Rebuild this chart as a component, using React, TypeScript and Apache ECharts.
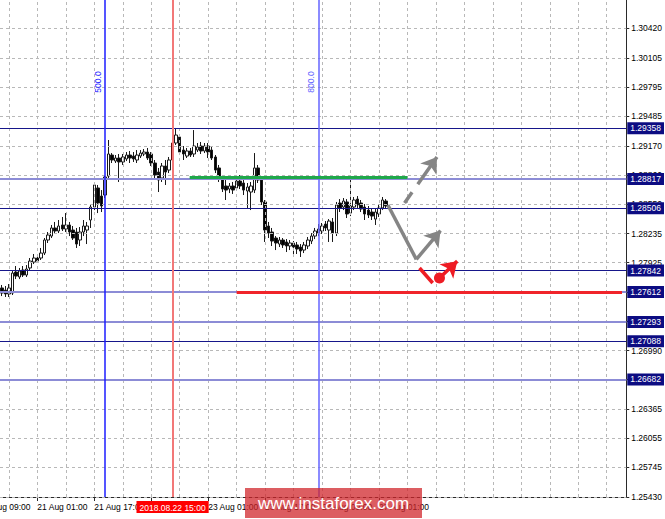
import { useEffect, useRef } from "react";
import * as echarts from "echarts";

// GBP/USD H1 bars
const opens = [
  1.27656, 1.27634, 1.27592, 1.27602, 1.27826, 1.27773, 1.27847, 1.27794, 1.27869, 1.27932,
  1.27975, 1.27975, 1.28028, 1.28167, 1.28209, 1.28295, 1.28263, 1.28327, 1.28284, 1.28327,
  1.28273, 1.28252, 1.28167, 1.28252, 1.28273, 1.2838, 1.28518, 1.28721, 1.28635, 1.28646,
  1.28848, 1.29072, 1.29008, 1.2904, 1.28998, 1.2903, 1.29072, 1.29061, 1.29019, 1.29061,
  1.29083, 1.29104, 1.29083, 1.28987, 1.28891, 1.28827, 1.28955, 1.28912, 1.29019, 1.292,
  1.29264, 1.29125, 1.29061, 1.29115, 1.29083, 1.29125, 1.29168, 1.29115, 1.29168, 1.29125,
  1.29051, 1.28934, 1.28827, 1.28742, 1.2871, 1.28742, 1.28721, 1.28795, 1.28774, 1.28689,
  1.28678, 1.28699, 1.28934, 1.28806, 1.28572, 1.28316, 1.28252, 1.28188, 1.28124, 1.28167,
  1.28146, 1.28103, 1.28135, 1.28114, 1.28092, 1.2806, 1.28103, 1.28156, 1.28209, 1.28241,
  1.28263, 1.28337, 1.28273, 1.28359, 1.28241, 1.28561, 1.28518, 1.28572, 1.28454, 1.28518,
  1.28603, 1.28561, 1.28518, 1.28486, 1.28465, 1.2839, 1.28444, 1.28508, 1.28582,
];
const closes = [
  1.27602, 1.27592, 1.27656, 1.27815, 1.27783, 1.27837, 1.27794, 1.27858, 1.27943, 1.27975,
  1.27943, 1.28028, 1.28167, 1.2822, 1.28295, 1.28263, 1.28316, 1.28284, 1.28327, 1.28252,
  1.28188, 1.28124, 1.28252, 1.28316, 1.28316, 1.28518, 1.28753, 1.28561, 1.28529, 1.28838,
  1.29083, 1.29019, 1.2904, 1.28998, 1.29051, 1.29072, 1.2904, 1.2903, 1.29072, 1.29093,
  1.29104, 1.2904, 1.28987, 1.28859, 1.28806, 1.28955, 1.28891, 1.29019, 1.292, 1.29285,
  1.29104, 1.29083, 1.29115, 1.29072, 1.29168, 1.29157, 1.29115, 1.29168, 1.29104, 1.2904,
  1.28912, 1.28827, 1.2871, 1.28699, 1.28742, 1.28699, 1.28795, 1.28742, 1.28699, 1.28731,
  1.28742, 1.28934, 1.28806, 1.28572, 1.28273, 1.28241, 1.28156, 1.28135, 1.28167, 1.28114,
  1.28103, 1.28135, 1.28092, 1.28071, 1.2805, 1.28114, 1.28167, 1.28209, 1.28263, 1.28284,
  1.28316, 1.28295, 1.28369, 1.28241, 1.2854, 1.28508, 1.28582, 1.28444, 1.28529, 1.28593,
  1.2854, 1.28497, 1.28444, 1.28433, 1.28422, 1.28465, 1.28508, 1.28593, 1.28529,
];
const lows = [
  1.2757, 1.2756, 1.2756, 1.27581, 1.27751, 1.27751, 1.27773, 1.27773, 1.27847, 1.27911,
  1.27922, 1.27954, 1.28007, 1.28135, 1.28188, 1.28231, 1.28241, 1.28263, 1.28252, 1.28209,
  1.28167, 1.28082, 1.28103, 1.28209, 1.28124, 1.28295, 1.28486, 1.28454, 1.28465, 1.28614,
  1.28827, 1.28987, 1.28987, 1.28785, 1.28966, 1.29008, 1.28987, 1.28998, 1.28987, 1.2904,
  1.29061, 1.29019, 1.28955, 1.28806, 1.28678, 1.28785, 1.28753, 1.2888, 1.28998, 1.29179,
  1.29072, 1.29019, 1.2904, 1.29051, 1.29051, 1.29104, 1.29083, 1.29093, 1.2904, 1.29019,
  1.2888, 1.28785, 1.28678, 1.28593, 1.28667, 1.28657, 1.28699, 1.2871, 1.28646, 1.28508,
  1.28486, 1.28667, 1.28774, 1.2854, 1.28146, 1.28188, 1.28103, 1.2806, 1.28092, 1.28082,
  1.28039, 1.2806, 1.28007, 1.28018, 1.27986, 1.28028, 1.28071, 1.28124, 1.28177, 1.28209,
  1.28231, 1.28263, 1.28146, 1.28146, 1.28209, 1.28465, 1.28486, 1.28401, 1.28422, 1.28486,
  1.28508, 1.28465, 1.2838, 1.28401, 1.2838, 1.28327, 1.28412, 1.28486, 1.28508,
];
const highs = [
  1.27688, 1.27677, 1.27698, 1.27847, 1.2789, 1.27869, 1.2789, 1.279, 1.27975, 1.28018,
  1.28007, 1.28082, 1.28188, 1.28252, 1.28327, 1.28359, 1.2838, 1.28412, 1.28454, 1.28359,
  1.28316, 1.28295, 1.28305, 1.2838, 1.28359, 1.2854, 1.28774, 1.28753, 1.28699, 1.28859,
  1.29232, 1.29093, 1.29072, 1.29083, 1.29083, 1.29104, 1.29115, 1.29104, 1.29125, 1.29125,
  1.29136, 1.29147, 1.29104, 1.29019, 1.28934, 1.28987, 1.29019, 1.29051, 1.29232, 1.2936,
  1.29296, 1.29168, 1.29147, 1.29147, 1.29338, 1.292, 1.29211, 1.292, 1.292, 1.29168,
  1.29072, 1.28966, 1.28859, 1.28806, 1.28774, 1.28785, 1.28848, 1.28859, 1.28827, 1.28774,
  1.28785, 1.29093, 1.28966, 1.28848, 1.28593, 1.28359, 1.28295, 1.28209, 1.28199, 1.28188,
  1.28177, 1.28167, 1.28156, 1.28146, 1.28124, 1.28146, 1.28199, 1.28241, 1.28295, 1.28337,
  1.28348, 1.28369, 1.2839, 1.28401, 1.28572, 1.28603, 1.28614, 1.28603, 1.28806, 1.28625,
  1.28635, 1.28593, 1.2855, 1.28529, 1.28497, 1.28497, 1.2854, 1.28625, 1.28603,
];

// Time scale
const firstBarTime = "2018.08.20 15:00";
const totalBars = 176;
const labelEvery = 16;
const labelPhase = 10;
const gridEvery = 8;
const gridPhase = 2;
const selectedTime = "2018.08.22 15:00";

// Price scale
const priceMin = 1.2543;
const priceMax = 1.30723;
const priceTicks = [
  1.2543, 1.25745, 1.26055, 1.26365, 1.2668, 1.2699, 1.273, 1.27615, 1.27925,
  1.28235, 1.2855, 1.2886, 1.2917, 1.29485, 1.29795, 1.30105, 1.3042,
];

// Horizontal levels and their line tone
const levels = [1.29358, 1.28817, 1.28506, 1.27842, 1.27612, 1.27293, 1.27088, 1.26682];
const levelTones = ["dark", "light", "dark", "dark", "light", "light", "dark", "light"];

// Vertical markers
const markerTimes = ["2018.08.21 20:00", "2018.08.24 08:00"];
const markerTexts = ["500.0", "800.0"];
const markerColors = ["#1c1cff", "#6464ff"];

// Drawn resistance / support segments [fromBar, toBar], price
const resistanceSpan = [52.8, 114];
const resistancePrice = 1.2883;
const supportSpan = [66, 174.3];
const supportPrice = 1.27612;

// Scenario arrows, points as [bar, price]
const breakoutPath = [[113.2, 1.28561], [122.3, 1.29052]];
const pullbackPath = [[108.5, 1.2854], [116.5, 1.27961], [123.3, 1.28267]];
const reversalStroke = [[117.4, 1.27869], [121.1, 1.27709]];
const reversalPoint = [123, 1.27762];
const reversalTarget = [128, 1.27942];

const FONT = "'Liberation Sans', Arial, Helvetica, sans-serif";
const MONTHS = ["Jan", "Feb", "Mar", "Apr", "May", "Jun", "Jul", "Aug", "Sep", "Oct", "Nov", "Dec"];

function parseBarTime(s: string) {
  const [d, t] = s.split(" ");
  const [y, m, day] = d.split(".").map(Number);
  const [hh, mm] = t.split(":").map(Number);
  return Date.UTC(y, m - 1, day, hh, mm);
}
const pad = (n: number) => String(n).padStart(2, "0");
function formatBarTime(ms: number) {
  const d = new Date(ms);
  return `${d.getUTCFullYear()}.${pad(d.getUTCMonth() + 1)}.${pad(d.getUTCDate())} ${pad(d.getUTCHours())}:${pad(d.getUTCMinutes())}`;
}
// Step n trading hours from a bar time, skipping weekends
function stepBars(start: string, n: number) {
  let ms = parseBarTime(start);
  const dir = n >= 0 ? 1 : -1;
  let left = Math.abs(n);
  while (left > 0) {
    ms += dir * 3600000;
    const wd = new Date(ms).getUTCDay();
    if (wd === 0 || wd === 6) continue;
    left--;
  }
  return formatBarTime(ms);
}
function shortLabel(s: string) {
  const ms = parseBarTime(s);
  const d = new Date(ms);
  return `${pad(d.getUTCDate())} ${MONTHS[d.getUTCMonth()]} ${pad(d.getUTCHours())}:${pad(d.getUTCMinutes())}`;
}

const barTimes = Array.from({ length: totalBars }, (_, i) => stepBars(firstBarTime, i));
const barOf = (t: string) => barTimes.indexOf(t);

const isLabelBar = (i: number) => i % labelEvery === labelPhase && i < opens.length;

export default function App() {
  const ref = useRef<HTMLDivElement>(null);

  useEffect(() => {
    const el = ref.current!;
    const chart = echarts.init(el, null, { renderer: "svg" });

    const candleData = opens.map((o, i) => {
      const v = [o, closes[i], lows[i], highs[i]];
      if (barTimes[i] === selectedTime) {
        return {
          value: v,
          itemStyle: { color: "#8a1414", color0: "#8a1414", borderColor: "#6a0c0c", borderColor0: "#6a0c0c" },
        };
      }
      return v;
    });

    const gridLines: any[] = [];
    for (let i = 0; i < totalBars; i++) if (i % gridEvery === gridPhase) gridLines.push({ xAxis: i });
    priceTicks.forEach((p) => gridLines.push({ yAxis: p }));

    const levelLines = levels.map((p, i) => ({
      yAxis: p,
      lineStyle: {
        color: levelTones[i] === "dark" ? "#16168a" : "#8c8cd6",
        width: levelTones[i] === "dark" ? 1 : 2,
        type: "solid",
      },
    }));

    const grey = { color: "#858585", width: 3.5, type: "solid" };
    const red = { color: "#ee1c24", width: 3.5, type: "solid" };

    const seg = (a: number[], b: number[], style: any, arrow = false) => [
      { coord: a, symbol: "none", lineStyle: style },
      { coord: b, symbol: arrow ? "arrow" : "none", symbolSize: arrow ? 15 : 0 },
    ];

    const option: any = {
      animation: false,
      backgroundColor: "#ffffff",
      grid: { left: 0, right: 38, top: 0, bottom: 22, containLabel: false },
      xAxis: [
        {
          type: "category",
          data: barTimes,
          boundaryGap: true,
          axisLine: { show: true, onZero: false, lineStyle: { color: "#2a2a2a", width: 1 } },
          axisTick: {
            show: true,
            alignWithLabel: true,
            interval: (i: number) => isLabelBar(i),
            length: 4,
            lineStyle: { color: "#2a2a2a" },
          },
          axisLabel: {
            interval: (i: number) => isLabelBar(i),
            formatter: (v: string) => shortLabel(v),
            align: "left",
            margin: 5,
            fontSize: 8.5,
            fontFamily: FONT,
            color: "#000",
          },
          splitLine: { show: false },
        },
        {
          type: "value",
          min: -0.5,
          max: totalBars - 0.5,
          show: false,
          axisLine: { show: false, onZero: false },
          splitLine: { show: false },
        },
      ],
      yAxis: {
        type: "value",
        position: "right",
        min: priceMin,
        max: priceMax,
        splitLine: { show: false },
        axisLine: { show: true, onZero: false, lineStyle: { color: "#2a2a2a", width: 1 } },
        axisTick: { show: true, customValues: priceTicks, length: 3, lineStyle: { color: "#2a2a2a" } },
        axisLabel: {
          customValues: priceTicks,
          formatter: (v: number) => v.toFixed(5),
          fontSize: 8.5,
          fontFamily: FONT,
          color: "#000",
          margin: 5,
        },
      },
      series: [
        {
          name: "grid",
          type: "line",
          xAxisIndex: 1,
          data: [],
          silent: true,
          z: 1,
          markLine: {
            silent: true,
            symbol: "none",
            precision: 5,
            label: { show: false },
            lineStyle: { color: "#b8b8b8", width: 1, type: [3, 3] },
            data: gridLines,
          },
        },
        {
          name: "GBPUSD",
          type: "candlestick",
          xAxisIndex: 0,
          data: candleData,
          barWidth: 3,
          z: 2,
          itemStyle: {
            color: "#ffffff",
            color0: "#000000",
            borderColor: "#1a1a1a",
            borderColor0: "#1a1a1a",
            borderWidth: 1,
          },
        },
        {
          name: "levels",
          type: "line",
          xAxisIndex: 1,
          data: [],
          silent: true,
          z: 3,
          markLine: {
            silent: true,
            symbol: "none",
            precision: 5,
            label: {
              show: true,
              position: "end",
              distance: 1,
              formatter: (p: any) => Number(p.value).toFixed(5),
              backgroundColor: "#0c0c82",
              color: "#ffffff",
              padding: [2, 3, 1, 3],
              fontSize: 8.5,
              fontFamily: FONT,
            },
            data: levelLines,
          },
        },
        {
          name: "markers",
          type: "line",
          xAxisIndex: 1,
          data: [],
          silent: true,
          z: 4,
          markLine: {
            silent: true,
            symbol: "none",
            precision: 5,
            label: { show: false },
            data: [
              ...markerTimes.map((t, i) => ({
                xAxis: barOf(t),
                lineStyle: { color: markerColors[i], width: 1.5, type: "solid" },
              })),
              {
                xAxis: barOf(selectedTime),
                lineStyle: { color: "#f27878", width: 2, type: "solid" },
                label: {
                  show: true,
                  position: "start",
                  distance: 4,
                  formatter: selectedTime,
                  backgroundColor: "#ff0000",
                  color: "#ffffff",
                  padding: [2, 3, 1, 3],
                  fontSize: 8.5,
                  fontFamily: FONT,
                },
              },
            ],
          },
        },
        {
          name: "scenario",
          type: "line",
          xAxisIndex: 1,
          data: [],
          silent: true,
          z: 5,
          markLine: {
            silent: true,
            symbol: "none",
            precision: 5,
            label: { show: false },
            data: [
              seg([resistanceSpan[0], resistancePrice], [resistanceSpan[1], resistancePrice], { color: "#1ea84a", width: 3, type: "solid" }),
              seg([supportSpan[0], supportPrice], [supportSpan[1], supportPrice], { color: "#f0242a", width: 3, type: "solid" }),
              seg(breakoutPath[0], breakoutPath[1], { ...grey, type: [13, 10, 80, 0] }, true),
              seg(pullbackPath[0], pullbackPath[1], grey),
              seg(pullbackPath[1], pullbackPath[2], grey, true),
              seg(reversalStroke[0], reversalStroke[1], red),
              seg(reversalPoint, reversalTarget, red, true),
            ],
          },
          markPoint: {
            silent: true,
            label: { show: false },
            data: [
              {
                coord: reversalPoint,
                symbol: "circle",
                symbolSize: 11,
                itemStyle: { color: "#ee1c24" },
              },
            ],
          },
        },
      ],
    };

    chart.setOption(option);

    // Texts anchored to axis positions
    const axisY = chart.convertToPixel({ yAxisIndex: 0 }, priceMin) as number;
    const gridTop = chart.convertToPixel({ yAxisIndex: 0 }, priceMax) as number;
    const graphics: any[] = markerTimes.map((t, i) => {
      const x = chart.convertToPixel({ xAxisIndex: 1 }, barOf(t)) as number;
      return {
        type: "text",
        x: x - 7,
        y: gridTop + 82,
        rotation: Math.PI / 2,
        z: 50,
        style: {
          text: markerTexts[i],
          fill: markerColors[i],
          font: `8.5px ${FONT}`,
          align: "center",
          verticalAlign: "middle",
        },
      };
    });
    // Partly visible label left of the first bar
    const leadBar = -(labelEvery - labelPhase);
    graphics.push({
      type: "text",
      x: chart.convertToPixel({ xAxisIndex: 1 }, leadBar) as number,
      y: axisY + 5,
      z: 50,
      style: {
        text: shortLabel(stepBars(firstBarTime, leadBar)),
        fill: "#000",
        font: `8.5px ${FONT}`,
        align: "left",
        verticalAlign: "top",
      },
    });
    // Watermark
    graphics.push({
      type: "rect",
      z: 100,
      shape: { x: 245, y: 488, width: 177, height: 30 },
      style: { fill: "rgba(208, 36, 42, 0.74)" },
    });
    graphics.push({
      type: "text",
      z: 101,
      x: 333.5,
      y: 503,
      style: {
        text: "www.instaforex.com",
        fill: "#ffffff",
        font: `17px ${FONT}`,
        align: "center",
        verticalAlign: "middle",
      },
    });
    chart.setOption({ graphic: graphics });

    return () => chart.dispose();
  }, []);

  return (
    <div
      ref={ref}
      style={{ position: "fixed", left: 0, top: 0, width: 665, height: 519, background: "#fff" }}
    />
  );
}
